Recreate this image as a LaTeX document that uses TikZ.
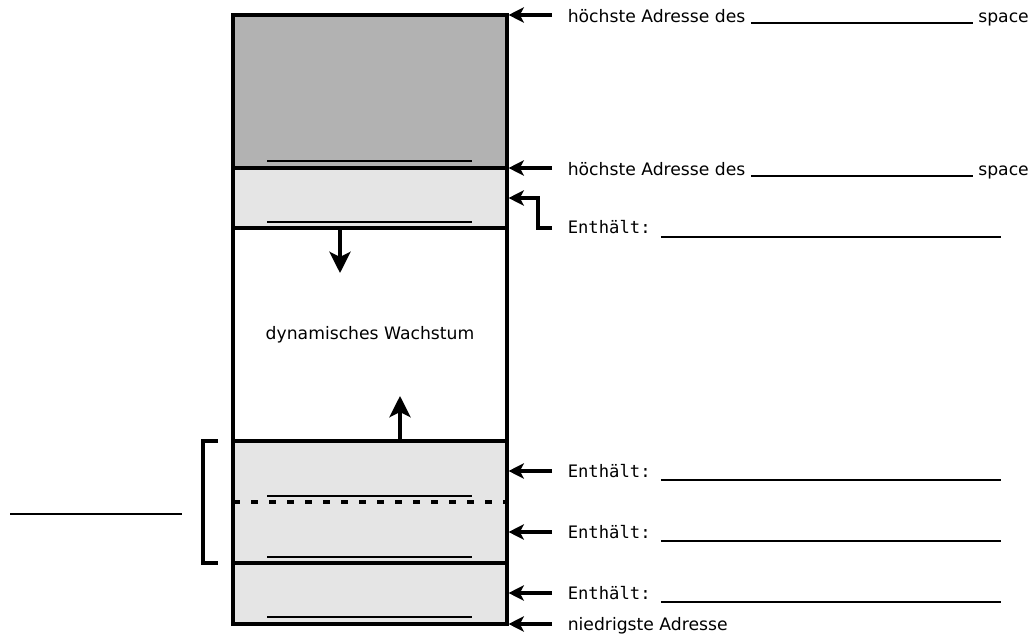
\documentclass[tikz,border=0pt]{standalone}
\usepackage{fontspec}
\setmainfont{DejaVu Sans}
\setmonofont{DejaVu Sans Mono}
\usetikzlibrary{arrows.meta}
\definecolor{segdark}{gray}{0.70}
\definecolor{seglight}{gray}{0.898}
\newcommand{\pxu}{0.75pt}
\tikzstyle{memseg} = [rectangle, draw=black, line width=2.3pt, minimum width=274*\pxu, inner sep=0pt, outer sep=0pt]
\tikzstyle{fillin} = [line width=1.7pt]
\tikzstyle{addr} = [anchor=base west, inner sep=0pt]
\tikzstyle{arrow} = [line width=2.3pt, -{Stealth[length=11.5pt, width=11.5pt, inset=3pt]}]
\tikzstyle{growth} = [line width=2.3pt, -{Stealth[length=16pt, width=16pt, inset=4pt]}]
\begin{document}
\begin{tikzpicture}[x=\pxu, y=-\pxu, font=\fontsize{12.9pt}{15pt}\selectfont]
\useasboundingbox (0,0) rectangle (1035,634);
% Segmente
\node (top) [memseg, fill=segdark, minimum height=153*\pxu] at (370,91.5) {};
\node (env) [memseg, fill=seglight, minimum height=60*\pxu] at (370,198) {};
\node (free) [memseg, fill=white, minimum height=213*\pxu] at (370,334.5) {dynamisches Wachstum};
\node (data) [memseg, fill=seglight, minimum height=122*\pxu] at (370,502) {};
\node (text) [memseg, fill=seglight, minimum height=61*\pxu] at (370,593.5) {};
\draw [line width=2.3pt, dash pattern=on 5pt off 8.5pt] (data.west) -- (data.east);
\foreach \y in {161,222,496,557,617}
  \draw [fillin] (267,\y) -- (472,\y);
\node (mem) [draw, line width=2.3pt, minimum width=274*\pxu, minimum height=609*\pxu, inner sep=0pt] at (370,319.5) {};
% Wachstum
\draw [growth] (env.south -| 340,0) -- ++(0,45);
\draw [growth] (data.north -| 400,0) -- ++(0,-45);
% links
\draw [line width=2.3pt] (218,441) -- (203,441) -- (203,563) -- (218,563);
\draw [fillin] (10,514) -- (182,514);
% Beschriftungen
\node (hiA) [addr] at (567.5,22.5) {höchste Adresse des \rule[-1.5pt]{166.5pt}{1.6pt} space};
\node (hiB) [addr] at (567.5,175.5) {höchste Adresse des \rule[-1.5pt]{166.5pt}{1.6pt} space};
\node (envl) [addr] at (567.5,234) {\texttt{Enthält: \rule[-3pt]{255pt}{1.6pt}}};
\node (datA) [addr] at (567.5,477) {\texttt{Enthält: \rule[-3pt]{255pt}{1.6pt}}};
\node (datB) [addr] at (567.5,538) {\texttt{Enthält: \rule[-3pt]{255pt}{1.6pt}}};
\node (txt) [addr] at (567.5,599) {\texttt{Enthält: \rule[-3pt]{255pt}{1.6pt}}};
\node (low) [addr] at (567.5,630) {niedrigste Adresse};
\foreach \y in {15,168,471,532,593,624}
  \draw [arrow] (552,\y) -- (mem.east |- 0,\y);
\draw [arrow] (552,228) -- (538,228) -- (538,198) -- (mem.east |- 0,198);
\end{tikzpicture}
\end{document}
